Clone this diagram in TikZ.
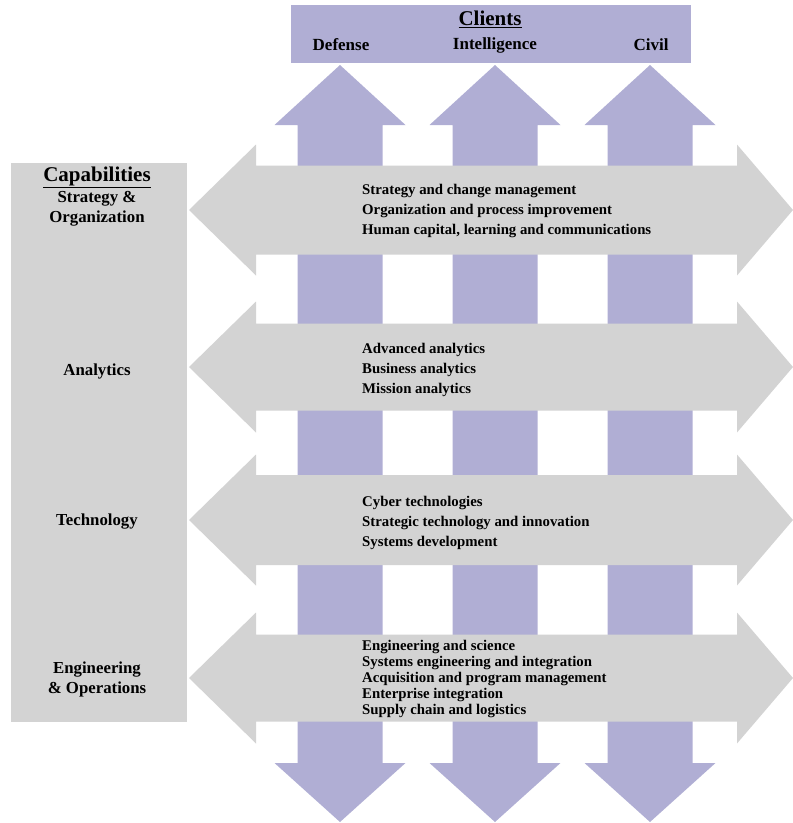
\documentclass[tikz,border=0pt]{standalone}
\usepackage{fontspec}
\setmainfont{Liberation Serif}
\usepackage{xcolor}
\definecolor{client}{RGB}{176,174,212}
\definecolor{capab}{RGB}{211,211,211}

\begin{document}
\begin{tikzpicture}[x=1pt, y=-1pt, font=\bfseries,
    big/.style={font=\fontsize{21}{22}\selectfont\bfseries},
    head/.style={font=\fontsize{17}{18}\selectfont\bfseries},
    items/.style={anchor=west, align=left, inner sep=0pt, font=\fontsize{14.8}{20}\selectfont\bfseries},
    side/.style={align=center, inner sep=0pt, font=\fontsize{16.8}{20}\selectfont\bfseries}]
        \useasboundingbox (0,0) rectangle (793,823);

        % client arrows, up and down
        \foreach \cx in {340,495,650}
            \fill[client] (\cx,65) -- (\cx+65.5,125) -- (\cx+42.5,125) -- (\cx+42.5,763) -- (\cx+65.5,763)
                -- (\cx,822) -- (\cx-65.5,763) -- (\cx-42.5,763) -- (\cx-42.5,125) -- (\cx-65.5,125) -- cycle;

        % capability arrows
        \foreach \cy/\h in {210/44.5,367/43.5,520/45,678/43.5}
            \fill[capab] (189,\cy) -- (256,\cy-65.5) -- (256,\cy-\h) -- (737,\cy-\h) -- (737,\cy-65.5)
                -- (793,\cy) -- (737,\cy+65.5) -- (737,\cy+\h) -- (256,\cy+\h) -- (256,\cy+65.5) -- cycle;

        \fill[client] (291,5) rectangle (691,63);
        \fill[capab] (11,163) rectangle (187,722);

        \node[big] (clients) at (490,19) {\underline{Clients}};
        \node[head] (defense) at (341,45) {Defense};
        \node[head] (intel) at (495,45) {Intelligence};
        \node[head] (civil) at (651,45) {Civil};

        \node[big] (capabilities) at (97,177) {\underline{Capabilities}};
        \node[side] (strat) at (97,209) {Strategy \&\\Organization};
        \node[side] (analytics) at (97,371) {Analytics};
        \node[side] (tech) at (97,522) {Technology};
        \node[side] (eng) at (97,679) {Engineering\\\& Operations};

        \node[items] (s1) at (362,211) {Strategy and change management\\Organization and process improvement\\Human capital, learning and communications};
        \node[items] (s2) at (362,370) {Advanced analytics\\Business analytics\\Mission analytics};
        \node[items] (s3) at (362,523) {Cyber technologies\\Strategic technology and innovation\\Systems development};
        \node[items, font=\fontsize{14.8}{16}\selectfont\bfseries] (s4) at (362,679) {Engineering and science\\Systems engineering and integration\\Acquisition and program management\\Enterprise integration\\Supply chain and logistics};
    \end{tikzpicture}
\end{document}
